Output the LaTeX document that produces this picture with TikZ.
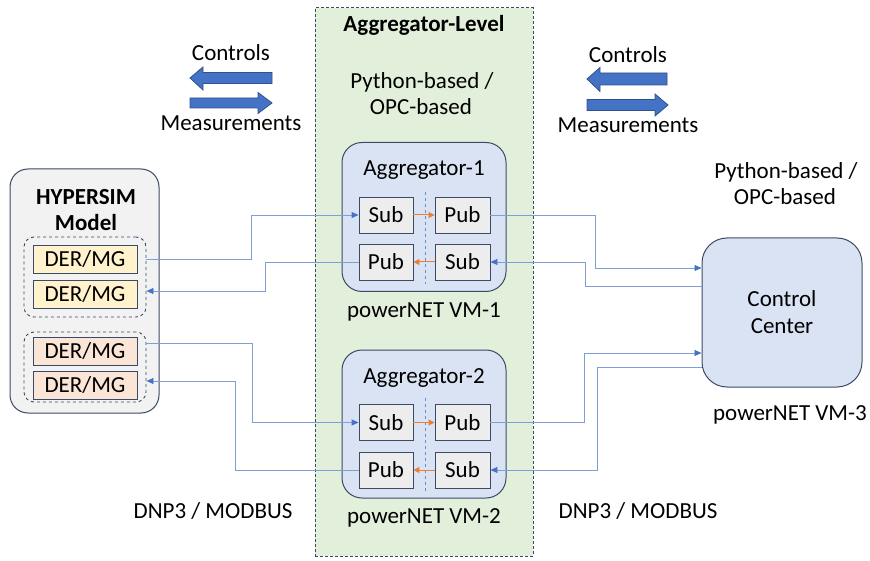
\documentclass[tikz,border=0pt]{standalone}
\usepackage{fontspec}
\setmainfont{Carlito}
\usetikzlibrary{arrows.meta,calc}
\definecolor{greenbg}{HTML}{E2EFDA}
\definecolor{bluebg}{HTML}{DAE3F3}
\definecolor{graybg}{HTML}{F2F2F2}
\definecolor{boxbg}{HTML}{EDEDED}
\definecolor{yel}{HTML}{FFF2CC}
\definecolor{peach}{HTML}{FBE5D6}
\definecolor{edge}{HTML}{3B4A66}
\definecolor{linec}{HTML}{7F9ED6}
\definecolor{tipc}{HTML}{4472C4}
\definecolor{arrfill}{HTML}{4472C4}
\definecolor{arredge}{HTML}{2F528F}
\definecolor{orng}{HTML}{ED7D31}
\tikzset{
  txt/.style={inner sep=0pt},
  btxt/.style={inner sep=0pt,font=\fontsize{23}{27}\selectfont\bfseries},
  rbox/.style={draw=edge,line width=1pt,rounded corners=#1,inner sep=0pt},
  grpbox/.style={draw=edge,dashed,line width=0.9pt,rounded corners=10pt,inner sep=0pt},
  ps/.style={draw=edge,line width=0.9pt,fill=boxbg,minimum height=36pt,inner sep=0pt},
  der/.style={draw=edge,line width=0.9pt,minimum width=104pt,minimum height=28pt,inner sep=0pt},
  conn/.style={draw=linec,line width=0.9pt,-{Triangle[length=7pt,width=6pt,color=tipc]}},
  oarr/.style={draw=orng,line width=1pt,-{Triangle[length=6pt,width=6pt]}},
  vdash/.style={draw=tipc!80,dashed,line width=0.6pt},
  blockarr/.style={fill=arrfill,draw=arredge,line width=0.8pt}
}
\begin{document}
\begin{tikzpicture}[x=1pt,y=-1pt,font=\fontsize{23}{27}\selectfont]
\useasboundingbox (0,0) rectangle (870,561);
% aggregator level background
\node[draw=edge,dash pattern=on 3pt off 2pt,fill=greenbg,line width=1pt,minimum width=218pt,minimum height=548pt,inner sep=0pt] (agglevel) at (424,282) {};
\node[btxt] (aggtitle) at (424,25) {Aggregator-Level};
\node[txt] (py1a) at (422,82) {Python-based /};
\node[txt] (py1b) at (421,107) {OPC-based};

% legend arrows left
\node[txt] (ctrlL) at (231,53) {Controls};
\node[txt] (measL) at (231,123) {Measurements};
\path[blockarr] (190,78) -- (203,67) -- (203,72.5) -- (272,72.5) -- (272,83.5) -- (203,83.5) -- (203,90) -- cycle;
\path[blockarr] (272,103) -- (258,92.5) -- (258,98) -- (190,98) -- (190,108) -- (258,108) -- (258,113.5) -- cycle;
% legend arrows right
\node[txt] (ctrlR) at (628,55) {Controls};
\node[txt] (measR) at (628,125) {Measurements};
\path[blockarr] (587,79) -- (600,67.5) -- (600,73) -- (667,73) -- (667,85) -- (600,85) -- (600,91.5) -- cycle;
\path[blockarr] (668,105) -- (655,94) -- (655,99.5) -- (587,99.5) -- (587,110.5) -- (655,110.5) -- (655,116) -- cycle;

% HYPERSIM
\node[rbox=18pt,fill=graybg,minimum width=149pt,minimum height=244pt] (hs) at (84.5,291) {};
\node[btxt] (hstitle1) at (86,197) {HYPERSIM};
\node[btxt] (hstitle2) at (86,223) {Model};
\node[grpbox,minimum width=122pt,minimum height=80pt] (g1) at (85,277) {};
\node[grpbox,minimum width=122pt,minimum height=70pt] (g2) at (85,367) {};
\node[der,fill=yel] (d1) at (85,259.5) {DER/MG};
\node[der,fill=yel] (d2) at (85,294) {DER/MG};
\node[der,fill=peach] (d3) at (85,351) {DER/MG};
\node[der,fill=peach] (d4) at (85,385.5) {DER/MG};

% Aggregator 1
\node[rbox=20pt,fill=bluebg,minimum width=164pt,minimum height=149pt] (a1) at (424,217) {};
\node[txt] (a1t) at (424,170) {Aggregator-1};
\draw[vdash] (425,192) -- (425,284);
\node[ps,minimum width=54pt] (s1) at (386,215) {Sub};
\node[ps,minimum width=55pt] (q1) at (462.5,215) {Pub};
\node[ps,minimum width=54pt] (p1) at (386,262) {Pub};
\node[ps,minimum width=55pt] (r1) at (462.5,262) {Sub};
\node[txt] (vm1) at (424,312) {powerNET VM-1};
\draw[oarr] (s1.east) -- (q1.west);
\draw[oarr] (r1.west) -- (p1.east);

% Aggregator 2
\node[rbox=20pt,fill=bluebg,minimum width=164pt,minimum height=148pt] (a2) at (424,424) {};
\node[txt] (a2t) at (424,378) {Aggregator-2};
\draw[vdash] (425,398) -- (425,492);
\node[ps,minimum width=54pt] (s2) at (386,422.5) {Sub};
\node[ps,minimum width=55pt] (q2) at (462.5,422.5) {Pub};
\node[ps,minimum width=54pt] (p2) at (386,470) {Pub};
\node[ps,minimum width=55pt] (r2) at (462.5,470) {Sub};
\node[txt] (vm2) at (424,518) {powerNET VM-2};
\draw[oarr] (s2.east) -- (q2.west);
\draw[oarr] (r2.west) -- (p2.east);

% Control center
\node[rbox=25pt,fill=bluebg,minimum width=160pt,minimum height=149pt,align=center,font=\fontsize{23}{27}\selectfont] (cc) at (782,312.5) {Control\\Center};
\node[txt] (py2a) at (786,172) {Python-based /};
\node[txt] (py2b) at (785,197) {OPC-based};
\node[txt] (vm3) at (790,415) {powerNET VM-3};

\node[txt] (dnpL) at (213,511) {DNP3 / MODBUS};
\node[txt] (dnpR) at (638,511) {DNP3 / MODBUS};

% connectors left
\draw[conn] (d1.east -| g1.east) -| ($(s1.west)+(-107,0)$) -- (s1.west);
\draw[conn] (p1.west) -- ++(-93,0) |- ($(d2.east -| g1.east)+(0,-3)$);
\draw[conn] ($(d3.east -| g2.east)+(0,-7.5)$) -| ($(s2.west)+(-106,0)$) -- (s2.west);
\draw[conn] (p2.west) -- ++(-123,0) |- ($(d4.east -| g2.east)+(0,-4.5)$);
% connectors right
\draw[conn] (q1.east) -| ($(cc.west)+(-106,-44.5)$) -- ($(cc.west)+(0,-44.5)$);
\draw[conn] ($(cc.west)+(0,-26.5)$) -| ($(r1.east)+(95,0)$) -- (r1.east);
\draw[conn] (q2.east) -| ($(cc.west)+(-117,40.5)$) -- ($(cc.west)+(0,40.5)$);
\draw[conn] ($(cc.west)+(0,54.5)$) -| ($(r2.east)+(107,0)$) -- (r2.east);
\end{tikzpicture}
\end{document}
